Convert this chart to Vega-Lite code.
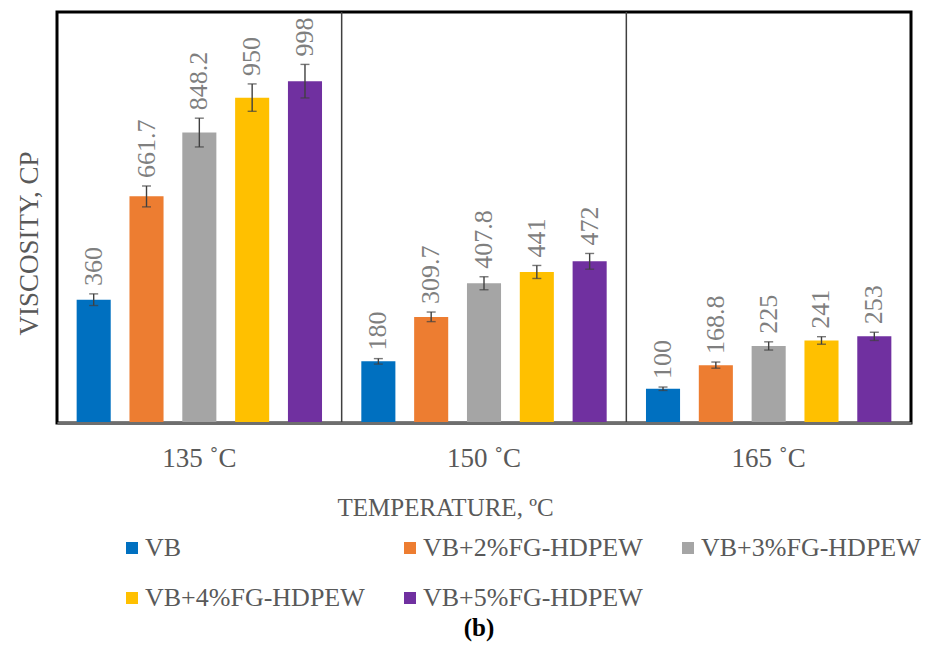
{
  "$schema": "https://vega.github.io/schema/vega-lite/v6.json",
  "width": 854,
  "height": 411,
  "autosize": {"type": "none"},
  "padding": {"left": 57, "top": 12, "right": 24, "bottom": 228},
  "background": "white",
  "title": {
    "text": "(b)",
    "orient": "bottom",
    "anchor": "middle",
    "font": "Liberation Serif",
    "fontSize": 25,
    "fontWeight": "bold",
    "color": "#000000",
    "offset": 5,
    "dx": -5
  },
  "config": {
    "font": "Liberation Serif",
    "text": {"font": "Liberation Serif"},
    "axis": {"labelFont": "Liberation Serif", "titleFont": "Liberation Serif"},
    "legend": {"labelFont": "Liberation Serif", "titleFont": "Liberation Serif"},
    "view": {"stroke": "#000000", "strokeWidth": 3}
  },
  "data": {
    "values": [
      {"temp": "135 ˚C", "series": "VB", "value": 360, "low": 343, "high": 377},
      {"temp": "135 ˚C", "series": "VB+2%FG-HDPEW", "value": 661.7, "low": 631, "high": 692},
      {"temp": "135 ˚C", "series": "VB+3%FG-HDPEW", "value": 848.2, "low": 806, "high": 890},
      {"temp": "135 ˚C", "series": "VB+4%FG-HDPEW", "value": 950, "low": 910, "high": 990},
      {"temp": "135 ˚C", "series": "VB+5%FG-HDPEW", "value": 998, "low": 949, "high": 1047},
      {"temp": "150 ˚C", "series": "VB", "value": 180, "low": 172, "high": 188},
      {"temp": "150 ˚C", "series": "VB+2%FG-HDPEW", "value": 309.7, "low": 296, "high": 324},
      {"temp": "150 ˚C", "series": "VB+3%FG-HDPEW", "value": 407.8, "low": 389, "high": 427},
      {"temp": "150 ˚C", "series": "VB+4%FG-HDPEW", "value": 441, "low": 422, "high": 460},
      {"temp": "150 ˚C", "series": "VB+5%FG-HDPEW", "value": 472, "low": 449, "high": 495},
      {"temp": "165 ˚C", "series": "VB", "value": 100, "low": 95, "high": 105},
      {"temp": "165 ˚C", "series": "VB+2%FG-HDPEW", "value": 168.8, "low": 160, "high": 178},
      {"temp": "165 ˚C", "series": "VB+3%FG-HDPEW", "value": 225, "low": 213, "high": 237},
      {"temp": "165 ˚C", "series": "VB+4%FG-HDPEW", "value": 241, "low": 230, "high": 252},
      {"temp": "165 ˚C", "series": "VB+5%FG-HDPEW", "value": 253, "low": 241, "high": 265}
    ]
  },
  "encoding": {
    "x": {
      "field": "temp",
      "type": "nominal",
      "scale": {"domain": ["135 ˚C", "150 ˚C", "165 ˚C"], "paddingInner": 0, "paddingOuter": 0},
      "axis": {
        "title": "TEMPERATURE, ºC",
        "labelAngle": 0,
        "ticks": false,
        "labelFont": "Liberation Serif",
        "labelFontSize": 27,
        "labelColor": "#595959",
        "labelBaseline": "alphabetic",
        "labelPadding": 43,
        "domainColor": "#6e6e6e",
        "domainWidth": 3,
        "titleFont": "Liberation Serif",
        "titleFontSize": 25,
        "titleFontWeight": "normal",
        "titleColor": "#595959",
        "titleBaseline": "alphabetic",
        "titleAlign": "center",
        "titleX": 388,
        "titleY": 92,
        "zindex": 1
      }
    }
  },
  "layer": [
    {
      "mark": {"type": "bar"},
      "encoding": {
        "xOffset": {
          "field": "series",
          "type": "nominal",
          "scale": {"domain": ["VB", "VB+2%FG-HDPEW", "VB+3%FG-HDPEW", "VB+4%FG-HDPEW", "VB+5%FG-HDPEW"], "paddingInner": 0.355, "paddingOuter": 0.372}
        },
        "y": {
          "field": "value",
          "type": "quantitative",
          "scale": {"domain": [0, 1200], "nice": false, "zero": true},
          "axis": {
            "title": "VISCOSITY, CP",
            "labels": false,
            "ticks": false,
            "grid": false,
            "domain": false,
            "titleFont": "Liberation Serif",
            "titleFontSize": 27,
            "titleFontWeight": "normal",
            "titleColor": "#595959",
            "titleAngle": -90,
            "titleBaseline": "alphabetic",
            "titleAlign": "center",
            "titleX": -20,
            "titleY": 231
          }
        },
        "color": {
          "field": "series",
          "type": "nominal",
          "scale": {
            "domain": ["VB", "VB+2%FG-HDPEW", "VB+3%FG-HDPEW", "VB+4%FG-HDPEW", "VB+5%FG-HDPEW"],
            "range": ["#0070C0", "#ED7D31", "#A5A5A5", "#FFC000", "#7030A0"]
          },
          "legend": {
            "title": null,
            "orient": "none",
            "legendX": 62,
            "legendY": 523,
            "direction": "horizontal",
            "columns": 3,
            "columnPadding": 32,
            "rowPadding": 24,
            "symbolType": "square",
            "symbolSize": 144,
            "symbolStrokeWidth": 0,
            "labelOffset": 0,
            "labelFont": "Liberation Serif",
            "labelFontSize": 26,
            "labelColor": "#595959",
            "labelLimit": 400
          }
        }
      }
    },
    {
      "mark": {"type": "rule", "color": "#404040", "strokeWidth": 1.4},
      "encoding": {
        "xOffset": {"field": "series", "type": "nominal"},
        "y": {"field": "low", "type": "quantitative"},
        "y2": {"field": "high"}
      }
    },
    {
      "mark": {"type": "tick", "orient": "horizontal", "size": 9, "thickness": 1.4, "color": "#404040"},
      "encoding": {
        "xOffset": {"field": "series", "type": "nominal"},
        "y": {"field": "low", "type": "quantitative"}
      }
    },
    {
      "mark": {"type": "tick", "orient": "horizontal", "size": 9, "thickness": 1.4, "color": "#404040"},
      "encoding": {
        "xOffset": {"field": "series", "type": "nominal"},
        "y": {"field": "high", "type": "quantitative"}
      }
    },
    {
      "mark": {"type": "text", "angle": 270, "align": "left", "baseline": "middle", "dx": 8, "font": "Liberation Serif", "fontSize": 26, "color": "#7f7f7f"},
      "encoding": {
        "xOffset": {"field": "series", "type": "nominal"},
        "y": {"field": "high", "type": "quantitative"},
        "text": {"field": "value", "type": "quantitative", "format": ".1~f"}
      }
    },
    {
      "data": {"values": [{"temp": "150 ˚C"}, {"temp": "165 ˚C"}]},
      "mark": {"type": "rule", "color": "#404040", "strokeWidth": 1.5},
      "encoding": {
        "x": {"field": "temp", "type": "nominal", "bandPosition": 0}
      }
    }
  ]
}
